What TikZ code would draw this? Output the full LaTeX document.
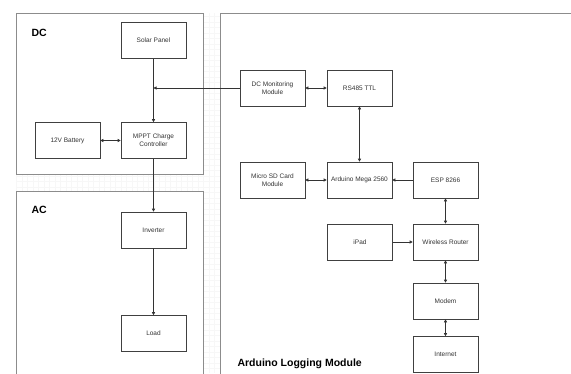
\documentclass[tikz,border=0pt]{standalone}
\usepackage{fontspec}
\setmainfont{Liberation Sans}
\usetikzlibrary{arrows.meta}
\begin{document}
\begin{tikzpicture}[x=1pt, y=-1pt,
	bloque/.style={draw=black!75, line width=0.6pt, minimum width=65pt, minimum height=36pt,
		inner sep=1pt, align=center, text=black!80, font=\fontsize{6.5}{7.8}\selectfont},
	marco/.style={draw=black!45, line width=0.9pt, fill=white},
	titulo/.style={font=\bfseries\fontsize{10.5}{12}\selectfont, anchor=west},
	flecha/.style={draw=black!80, line width=0.6pt, -{Triangle[length=3pt,width=3pt]}},
	doble/.style={draw=black!80, line width=0.6pt, {Triangle[length=3pt,width=3pt]}-{Triangle[length=3pt,width=3pt]}}]
	\useasboundingbox (0,0) rectangle (571,373);
	\fill[white] (0,0) rectangle (571,373);
	\draw[black!3, step=5.5pt] (16,13) grid (220,373);
	% marcos
	\path[marco] (16,13) rectangle (203,174);
	\fill[white] (16,191) rectangle (203,374);
	\draw[marco] (16,374) -- (16,191) -- (203,191) -- (203,374);
	\fill[white] (220,13) rectangle (572,374);
	\draw[marco] (220,374) -- (220,13) -- (572,13);
	\node[titulo] (dc) at (28,33) {DC};
	\node[titulo] (ac) at (28,210) {AC};
	\node[titulo] (logging) at (234,364) {Arduino Logging Module};
	% bloques
	\node[bloque] (solar) at (153.5,40.5) {Solar Panel};
	\node[bloque] (mppt) at (153.5,140.5) {MPPT Charge\\Controller};
	\node[bloque] (bateria) at (67.5,140.5) {12V Battery};
	\node[bloque] (inversor) at (153.5,230) {Inverter};
	\node[bloque] (carga) at (153.5,333.5) {Load};
	\node[bloque] (dcmon) at (272.5,88) {DC Monitoring\\Module};
	\node[bloque] (rs485) at (359.5,88) {RS485 TTL};
	\node[bloque] (microsd) at (272.5,180) {Micro SD Card\\Module};
	\node[bloque] (mega) at (359.5,180) {Arduino Mega 2560};
	\node[bloque] (esp) at (445.5,180) {ESP 8266};
	\node[bloque] (ipad) at (360,242) {iPad};
	\node[bloque] (router) at (445.5,242) {Wireless Router};
	\node[bloque] (modem) at (445.5,301) {Modem};
	\node[bloque] (internet) at (445.5,354.5) {Internet};
	\coordinate (union) at (solar.south |- dcmon.west);
	% conexiones
	\draw[flecha] (solar) -- (mppt);
	\draw[flecha] (dcmon.west) -- (union);
	\draw[doble] (bateria) -- (mppt);
	\draw[flecha] (mppt) -- (inversor);
	\draw[flecha] (inversor) -- (carga);
	\draw[doble] (dcmon) -- (rs485);
	\draw[doble] (rs485) -- (mega);
	\draw[doble] (microsd) -- (mega);
	\draw[flecha] (esp) -- (mega);
	\draw[doble] (esp) -- (router);
	\draw[flecha] (ipad) -- (router);
	\draw[doble] (router) -- (modem);
	\draw[doble] (modem) -- (internet);
\end{tikzpicture}
\end{document}
